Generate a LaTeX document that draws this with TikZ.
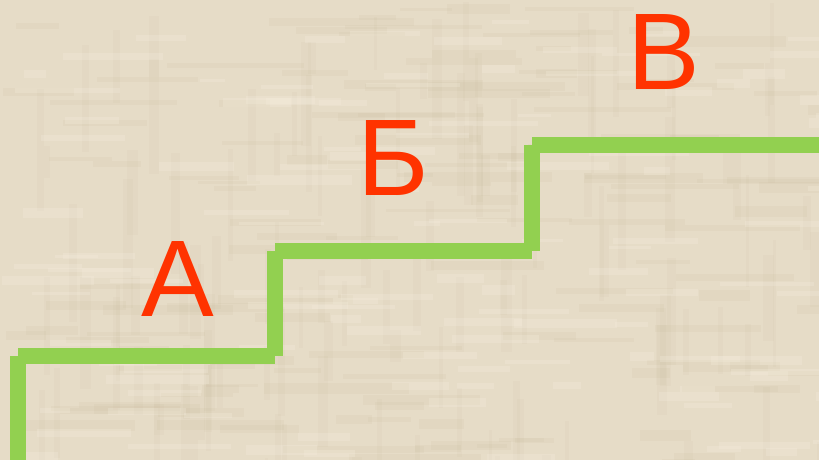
\documentclass[tikz,border=0pt]{standalone}
\usepackage{fontspec}
\setmainfont{Liberation Sans}
\definecolor{bgbase}{HTML}{E6DCC7}
\definecolor{bgdark}{HTML}{C2B394}
\definecolor{bglight}{HTML}{F6EFDF}
\definecolor{stairgreen}{HTML}{92D050}
\definecolor{letterred}{HTML}{FF3300}
\begin{document}
\begin{tikzpicture}[x=1pt,y=-1pt,
  stairseg/.style={draw=stairgreen,line width=16pt,line cap=butt},
  letter/.style={text=letterred,font=\fontsize{109}{109}\selectfont,inner sep=0pt,anchor=base}]
\useasboundingbox (0,0) rectangle (819,460);
\fill[bgbase] (0,0) rectangle (819,460);
% texture
\pgfmathsetseed{7}
\foreach \i in {1,...,140}{
  \pgfmathsetmacro{\xa}{rnd*819}
  \pgfmathsetmacro{\ya}{rnd*460}
  \pgfmathsetmacro{\w}{30+rnd*120}
  \pgfmathsetmacro{\h}{3+rnd*8}
  \fill[bgdark,opacity=0.10] (\xa,\ya) rectangle ++(\w,\h);
}
\foreach \i in {1,...,120}{
  \pgfmathsetmacro{\xa}{rnd*819}
  \pgfmathsetmacro{\ya}{rnd*460}
  \pgfmathsetmacro{\w}{3+rnd*8}
  \pgfmathsetmacro{\h}{30+rnd*100}
  \fill[bgdark,opacity=0.08] (\xa,\ya) rectangle ++(\w,\h);
}
\foreach \i in {1,...,120}{
  \pgfmathsetmacro{\xa}{rnd*819}
  \pgfmathsetmacro{\ya}{rnd*460}
  \pgfmathsetmacro{\w}{20+rnd*90}
  \pgfmathsetmacro{\h}{3+rnd*7}
  \fill[bglight,opacity=0.25] (\xa,\ya) rectangle ++(\w,\h);
}
% staircase
\coordinate (s0) at (18,460);
\coordinate (s1) at (18,356);
\coordinate (s2) at (275,356);
\coordinate (s3) at (275,251);
\coordinate (s4) at (532,251);
\coordinate (s5) at (532,145);
\coordinate (s6) at (819,145);
\draw[stairseg] (s0) -- (s1);
\draw[stairseg] (s1) -- (s2);
\draw[stairseg] (s2) -- (s3);
\draw[stairseg] (s3) -- (s4);
\draw[stairseg] (s4) -- (s5);
\draw[stairseg] (s5) -- (s6);
% letters
\node[letter] (la) at (178,316) {А};
\node[letter] (lb) at (393,195) {Б};
\node[letter] (lv) at (664,89) {В};
\end{tikzpicture}
\end{document}
